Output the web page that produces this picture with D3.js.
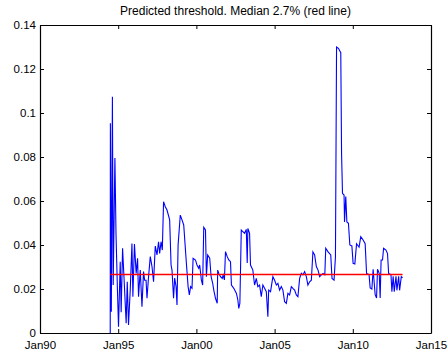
<!DOCTYPE html>
<html>
<head>
<meta charset="utf-8">
<script src="https://cdn.jsdelivr.net/npm/d3@7"></script>
<style>
  body { margin: 0; background: #fff; }
  svg { display: block; font-family: "Liberation Sans", Arial, sans-serif; }
</style>
</head>
<body>
<div id="chart-area"></div>
<script>
// Data (decimal years, threshold values)
var years = [
  1994.49, 1994.50, 1994.56, 1994.63, 1994.68, 1994.79, 1994.86, 1994.95, 1995.02, 1995.13,
  1995.19, 1995.28, 1995.38, 1995.51, 1995.58, 1995.66, 1995.77, 1995.88, 1995.94, 1996.04,
  1996.15, 1996.24, 1996.30, 1996.41, 1996.52, 1996.62, 1996.69, 1996.78, 1996.84, 1996.94,
  1997.05, 1997.16, 1997.26, 1997.37, 1997.48, 1997.58, 1997.65, 1997.74, 1997.82, 1997.90,
  1998.01, 1998.12, 1998.29, 1998.38, 1998.44, 1998.54, 1998.61, 1998.70, 1998.76, 1998.83,
  1998.97, 1999.08, 1999.19, 1999.36, 1999.47, 1999.55, 1999.63, 1999.72, 1999.79, 1999.94,
  2000.04, 2000.15, 2000.21, 2000.32, 2000.40, 2000.47, 2000.58, 2000.64, 2000.72, 2000.85,
  2000.94, 2001.04, 2001.11, 2001.22, 2001.33, 2001.36, 2001.43, 2001.54, 2001.65, 2001.71,
  2001.79, 2001.86, 2001.97, 2002.07, 2002.18, 2002.24, 2002.39, 2002.56, 2002.65, 2002.71,
  2002.78, 2002.87, 2002.97, 2003.08, 2003.19, 2003.25, 2003.29, 2003.40, 2003.46, 2003.61,
  2003.72, 2003.83, 2003.93, 2004.04, 2004.15, 2004.25, 2004.36, 2004.47, 2004.57, 2004.62,
  2004.74, 2004.89, 2005.00, 2005.11, 2005.21, 2005.32, 2005.43, 2005.53, 2005.64, 2005.75,
  2005.85, 2005.96, 2006.07, 2006.17, 2006.28, 2006.39, 2006.49, 2006.60, 2006.71, 2006.81,
  2006.92, 2007.03, 2007.13, 2007.24, 2007.35, 2007.45, 2007.56, 2007.67, 2007.78, 2007.88,
  2007.99, 2008.10, 2008.21, 2008.27, 2008.42, 2008.59, 2008.67, 2008.80, 2008.89, 2008.96,
  2009.08, 2009.23, 2009.28, 2009.34, 2009.44, 2009.47, 2009.55, 2009.62, 2009.72, 2009.81,
  2009.94, 2010.02, 2010.13, 2010.24, 2010.40, 2010.51, 2010.66, 2010.79, 2010.88, 2011.04,
  2011.11, 2011.22, 2011.30, 2011.43, 2011.52, 2011.58, 2011.69, 2011.75, 2011.81, 2011.90,
  2011.97, 2012.12, 2012.22, 2012.29, 2012.44, 2012.50, 2012.58, 2012.65, 2012.76, 2012.82,
  2012.93, 2012.99, 2013.10, 2013.18
];
var values = [
  0.0000, 0.0953, 0.0097, 0.1074, 0.0218, 0.0795, 0.0450, 0.0200, 0.0029, 0.0324,
  0.0094, 0.0385, 0.0240, 0.0044, 0.0233, 0.0036, 0.0195, 0.0407, 0.0165, 0.0404,
  0.0271, 0.0340, 0.0165, 0.0286, 0.0119, 0.0279, 0.0240, 0.0240, 0.0158, 0.0256,
  0.0347, 0.0302, 0.0233, 0.0395, 0.0355, 0.0415, 0.0362, 0.0415, 0.0377, 0.0597,
  0.0574, 0.0559, 0.0514, 0.0309, 0.0286, 0.0158, 0.0250, 0.0211, 0.0127, 0.0400,
  0.0536, 0.0514, 0.0491, 0.0317, 0.0211, 0.0173, 0.0211, 0.0203, 0.0340, 0.0332,
  0.0309, 0.0294, 0.0309, 0.0240, 0.0218, 0.0480, 0.0468, 0.0256, 0.0355, 0.0340,
  0.0256, 0.0226, 0.0195, 0.0158, 0.0135, 0.0286, 0.0271, 0.0256, 0.0248, 0.0263,
  0.0241, 0.0370, 0.0347, 0.0332, 0.0324, 0.0218, 0.0203, 0.0180, 0.0150, 0.0112,
  0.0135, 0.0468, 0.0461, 0.0453, 0.0471, 0.0318, 0.0475, 0.0453, 0.0309, 0.0286,
  0.0218, 0.0248, 0.0211, 0.0218, 0.0165, 0.0218, 0.0203, 0.0188, 0.0074, 0.0195,
  0.0188, 0.0256, 0.0240, 0.0218, 0.0226, 0.0195, 0.0211, 0.0195, 0.0142, 0.0135,
  0.0180, 0.0173, 0.0211, 0.0203, 0.0195, 0.0173, 0.0165, 0.0248, 0.0271, 0.0264,
  0.0279, 0.0256, 0.0218, 0.0233, 0.0240, 0.0369, 0.0355, 0.0302, 0.0286, 0.0256,
  0.0264, 0.0271, 0.0264, 0.0385, 0.0369, 0.0355, 0.0248, 0.0240, 0.0347, 0.1300,
  0.1294, 0.1274, 0.0817, 0.0635, 0.0627, 0.0505, 0.0620, 0.0505, 0.0499, 0.0400,
  0.0396, 0.0317, 0.0314, 0.0406, 0.0390, 0.0438, 0.0423, 0.0406, 0.0271, 0.0265,
  0.0205, 0.0200, 0.0290, 0.0174, 0.0159, 0.0290, 0.0271, 0.0159, 0.0332, 0.0332,
  0.0385, 0.0377, 0.0361, 0.0271, 0.0265, 0.0188, 0.0258, 0.0188, 0.0258, 0.0194,
  0.0258, 0.0194, 0.0256, 0.0251
];
var median = 0.027;
var yTicks = [0, 0.02, 0.04, 0.06, 0.08, 0.1, 0.12, 0.14];
var tickYears = [1990, 1995, 2000, 2005, 2010, 2015];

var margin = {left: 40, right: 17, top: 25, bottom: 18};
var width = 448 - margin.left - margin.right;
var height = 351 - margin.top - margin.bottom;

function toDate(y) {
  var yr = Math.floor(y);
  var start = Date.UTC(yr, 0, 1), end = Date.UTC(yr + 1, 0, 1);
  return new Date(start + (y - yr) * (end - start));
}

var svg = d3.select('#chart-area')
  .append('svg')
  .attr('width', 448)
  .attr('height', 351);

var g = svg.append('g')
  .attr('transform', 'translate(' + margin.left + ', ' + margin.top + ')');

var x = d3.scaleUtc()
  .domain([toDate(1990), toDate(2015)])
  .range([0, width]);

var y = d3.scaleLinear()
  .domain([0, 0.14])
  .range([height, 0]);

var fmtX = d3.utcFormat('%b%y');
var fmtY = function (d) { return String(+d.toFixed(2)); };
var xTickDates = tickYears.map(toDate);

// MATLAB style axes: inward ticks on all four sides
g.append('g')
  .attr('class', 'x-axis')
  .attr('transform', 'translate(0, ' + height + ')')
  .call(d3.axisBottom(x).tickValues(xTickDates).tickFormat(fmtX).tickSizeInner(-4).tickSizeOuter(0).tickPadding(8));
g.append('g')
  .call(d3.axisTop(x).tickValues(xTickDates).tickFormat('').tickSizeInner(-4).tickSizeOuter(0));
g.append('g')
  .attr('class', 'y-axis')
  .call(d3.axisLeft(y).tickValues(yTicks).tickFormat(fmtY).tickSizeInner(-4).tickSizeOuter(0).tickPadding(4));
g.append('g')
  .attr('transform', 'translate(' + width + ', 0)')
  .call(d3.axisRight(y).tickValues(yTicks).tickFormat('').tickSizeInner(-4).tickSizeOuter(0));

g.selectAll('.domain').attr('stroke', '#000').attr('stroke-width', 1.2);
g.selectAll('.tick line').attr('stroke', '#000');
g.selectAll('.tick text').attr('fill', '#000')
  .attr('font-family', '"Liberation Sans", Arial, sans-serif');
g.selectAll('.x-axis .tick text').attr('font-size', '11.5px');
g.selectAll('.y-axis .tick text').attr('font-size', '11.5px');

var data = years.map(function (d, i) {
  return {date: toDate(d), value: values[i]};
});

var line = d3.line()
  .x(function (d) { return x(d.date); })
  .y(function (d) { return y(d.value); });

g.append('path')
  .datum(data)
  .attr('fill', 'none')
  .attr('stroke', '#0000ff')
  .attr('stroke-width', 1.1)
  .attr('d', line);

// median line across the data range
g.append('line')
  .attr('x1', x(data[0].date))
  .attr('x2', x(data[data.length - 1].date))
  .attr('y1', Math.round(y(median)) + 0.5)
  .attr('y2', Math.round(y(median)) + 0.5)
  .attr('stroke', '#ff0000')
  .attr('stroke-width', 1.3);

// Title
g.append('text')
  .attr('x', width / 2)
  .attr('y', -10)
  .attr('text-anchor', 'middle')
  .attr('font-size', '12px')
  .text('Predicted threshold. Median 2.7% (red line)');
</script>
</body>
</html>
